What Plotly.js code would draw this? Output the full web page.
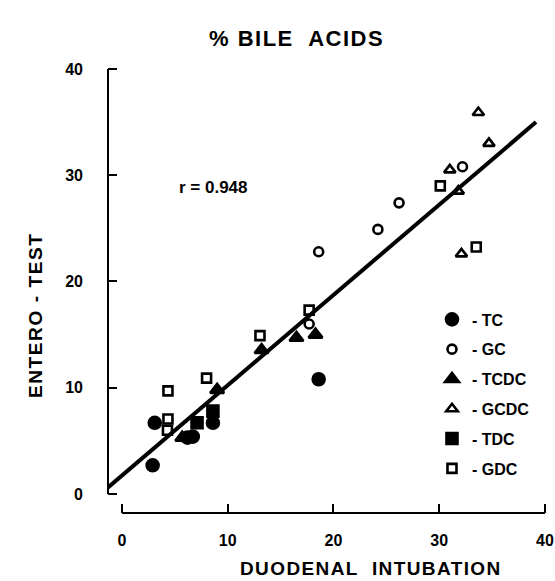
<!DOCTYPE html>
<html>
<head>
<meta charset="utf-8">
<script src="https://cdn.plot.ly/plotly-3.0.1.min.js"></script>
<style>html,body{margin:0;padding:0;background:#fff;}#chart{width:555px;height:581px;}</style>
</head>
<body>
<div id="chart"></div>
<script>
// ---- data ----
const tcX   = [2.9, 3.1, 6.2, 6.7, 8.6, 18.6];
const tcY   = [2.7, 6.7, 5.3, 5.4, 6.7, 10.8];
const gcX   = [17.7, 18.6, 24.2, 26.2, 32.2];
const gcY   = [16.0, 22.8, 24.9, 27.4, 30.8];
const tcdcX = [5.7, 9.0, 13.2, 16.5, 18.3];
const tcdcY = [5.3, 9.8, 13.55, 14.7, 15.0];
const gcdcX = [31.0, 31.8, 32.1, 33.7, 34.7];
const gcdcY = [30.5, 28.5, 22.6, 35.9, 33.0];
const tdcX  = [7.1, 8.6];
const tdcY  = [6.7, 7.8];
const gdcX  = [4.35, 4.3, 4.35, 8.0, 13.05, 17.7, 30.1, 33.5];
const gdcY  = [7.05, 6.0, 9.7, 10.9, 14.9, 17.3, 29.0, 23.25];
const fitX  = [-1.4, 39.15];
const fitY  = [0.55, 35.0];
const seriesNames = ['TC', 'GC', 'TCDC', 'GCDC', 'TDC', 'GDC'];
const xTicks = [0, 10, 20, 30, 40];
const yTicks = [0, 10, 20, 30, 40];

const FONT = 'Liberation Sans, Arial, Helvetica, sans-serif';
const K = '#000';

function mk(x, y, name, symbol, size, grp) {
  return {
    x: x, y: y, type: 'scatter', mode: 'markers', name: '- ' + name,
    legendgroup: grp,
    marker: {symbol: symbol, size: size, color: K, line: {color: K, width: 2.6}},
    cliponaxis: false
  };
}

const traces = [
  {x: fitX, y: fitY, type: 'scatter', mode: 'lines', showlegend: false,
   line: {color: K, width: 4}, cliponaxis: false, hoverinfo: 'skip'},
  mk(tcX, tcY, seriesNames[0], 'circle', 12, 'a'),
  mk(gcX, gcY, seriesNames[1], 'circle-open', 9, 'b'),
  mk(tcdcX, tcdcY, seriesNames[2], 'triangle-up', 12, 'c'),
  mk(gcdcX, gcdcY, seriesNames[3], 'triangle-up-open', 10, 'd'),
  mk(tdcX, tdcY, seriesNames[4], 'square', 11, 'e'),
  mk(gdcX, gdcY, seriesNames[5], 'square-open', 9, 'f')
];

const layout = {
  width: 555, height: 581,
  margin: {l: 108, r: 8, t: 66, b: 68},
  paper_bgcolor: '#fff', plot_bgcolor: '#fff',
  font: {family: FONT, color: K, size: 16, weight: 'bold'},
  showlegend: true,
  legend: {
    x: 0.738, y: 0.471, xanchor: 'left', yanchor: 'top',
    font: {family: FONT, size: 16, color: K, weight: 'bold'},
    tracegroupgap: 6, bgcolor: 'rgba(0,0,0,0)', itemsizing: 'trace'
  },
  xaxis: {
    range: [-1.32, 40.19], tickvals: xTicks, ticktext: xTicks.map(String),
    showgrid: false, zeroline: false, showline: false,
    ticks: 'inside', ticklen: 9, tickwidth: 2, tickcolor: K,
    ticklabelstandoff: 16,
    tickfont: {family: FONT, size: 16, color: K, weight: 'bold'},
    fixedrange: true
  },
  yaxis: {
    range: [-1.79, 40.28], tickvals: yTicks, ticktext: yTicks.map(String),
    showgrid: false, zeroline: false, showline: false,
    ticks: 'inside', ticklen: 9, tickwidth: 2, tickcolor: K,
    ticklabelstandoff: 24,
    tickfont: {family: FONT, size: 16, color: K, weight: 'bold'},
    fixedrange: true
  },
  shapes: [
    {type: 'line', xref: 'paper', yref: 'y', x0: 0, x1: 0, y0: 0, y1: 40,
     line: {color: K, width: 2}},
    {type: 'line', xref: 'x', yref: 'paper', x0: 0, x1: 40, y0: 0, y1: 0,
     line: {color: K, width: 2}}
  ],
  annotations: [
    {text: '<span style="letter-spacing:1.5px">% BILE  ACIDS</span>', xref: 'paper', yref: 'paper',
     x: (296 - 108) / 439, y: (513 - 39) / 447, xanchor: 'center', yanchor: 'middle',
     showarrow: false, font: {family: FONT, size: 22, color: K, weight: 'bold'}},
    {text: '<span style="letter-spacing:1.4px">DUODENAL  INTUBATION</span>', xref: 'paper', yref: 'paper',
     x: (371 - 108) / 439, y: (513 - 568) / 447, xanchor: 'center', yanchor: 'middle',
     showarrow: false, font: {family: FONT, size: 19, color: K, weight: 'bold'}},
    {text: '<span style="letter-spacing:1.6px">ENTERO - TEST</span>', xref: 'paper', yref: 'paper',
     x: (35 - 108) / 439, y: (513 - 316) / 447, xanchor: 'center', yanchor: 'middle',
     textangle: -90, showarrow: false,
     font: {family: FONT, size: 19, color: K, weight: 'bold'}},
    {text: 'r = 0.948', xref: 'x', yref: 'y', x: 8.7, y: 28.8,
     xanchor: 'center', yanchor: 'middle', showarrow: false,
     font: {family: FONT, size: 17, color: K, weight: 'bold'}}
  ]
};

Plotly.newPlot('chart', traces, layout, {displayModeBar: false, staticPlot: true});
</script>
</body>
</html>
